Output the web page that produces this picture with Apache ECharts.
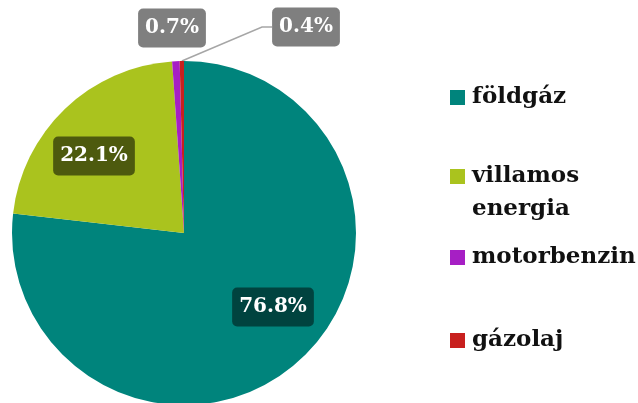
<!DOCTYPE html>
<html><head><meta charset="utf-8">
<script src="https://cdn.jsdelivr.net/npm/echarts@6/dist/echarts.min.js"></script>
<style>html,body{margin:0;padding:0;background:#fff}#c{width:638px;height:403px}</style>
</head><body><div id="c"></div>
<script>
var categories = ['földgáz', 'villamos energia', 'motorbenzin', 'gázolaj'];
var values = [76.8, 22.1, 0.7, 0.4];
var colors = ['#00847C', '#AAC31E', '#A61FC4', '#C8201E'];
var labelBg = ['#00433F', '#4D5A0E', '#7F7F7F', '#7F7F7F'];
var labelPos = [[273, 307], [94, 156], [172, 28], [306, 27]];
var legendTops = [81, 127, 241, 324];

var FONT = 'DejaVu Serif';
var chart = echarts.init(document.getElementById('c'), null, {renderer: 'canvas'});

var data = categories.map(function (n, i) {
  var small = i >= 2;
  return {
    name: n, value: values[i],
    itemStyle: {color: colors[i]},
    label: {position: small ? 'outside' : 'inside', backgroundColor: labelBg[i]},
    labelLine: {show: i === 3, lineStyle: {color: '#A6A6A6', width: 1.5}, length: 10, length2: 10}
  };
});

var legends = categories.map(function (n, i) {
  var multi = i === 1;
  return {
    data: [n], left: 450, top: legendTops[i], orient: 'vertical', padding: 0,
    icon: 'rect', itemWidth: 15, itemHeight: 15, itemGap: 0,
    selectedMode: false,
    formatter: multi ? function (s) { return '\n' + s.replace(' ', '\n'); } : undefined,
    textStyle: {
      fontFamily: FONT, fontWeight: 'bold', fontSize: 23, color: '#111',
      lineHeight: 33, padding: [0, 0, 0, 2]
    }
  };
});

chart.setOption({
  animation: false,
  legend: legends,
  series: [{
    type: 'pie',
    center: [184, 233],
    radius: 172,
    startAngle: 90,
    clockwise: true,
    avoidLabelOverlap: false,
    data: data,
    label: {
      show: true,
      formatter: function (p) { return p.value.toFixed(1) + '%'; },
      fontFamily: FONT, fontWeight: 'bold', fontSize: 20, color: '#fff',
      lineHeight: 25, padding: [7, 7, 7, 7], borderRadius: 5
    },
    emphasis: {disabled: true},
    labelLayout: function (p) {
      var pos = labelPos[p.dataIndex];
      var res = {x: pos[0], y: pos[1], align: 'center', verticalAlign: 'middle'};
      if (p.dataIndex === 3 && p.labelLinePoints) {
        var a = p.labelLinePoints[0];
        res.labelLinePoints = [[a[0], a[1]], [262, 27], [272, 27]];
      }
      return res;
    }
  }]
});
</script></body></html>
